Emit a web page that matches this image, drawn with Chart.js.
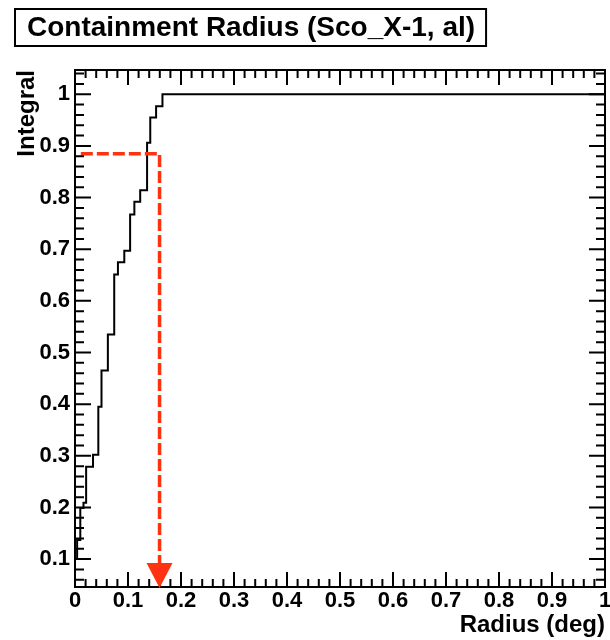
<!DOCTYPE html>
<html><head><meta charset="utf-8">
<script src="https://cdn.jsdelivr.net/npm/chart.js@4/dist/chart.umd.min.js"></script>
<style>html,body{margin:0;padding:0;background:#fff}#wrap{width:610px;height:640px}</style>
</head><body><div id="wrap"><canvas id="c" width="610" height="640"></canvas></div>
<script>
// ---- data ----
const titleText = 'Containment Radius (Sco_X-1, al)';
const xTitle = 'Radius (deg)';
const yTitle = 'Integral';
const binEdges = [0, 0.004, 0.01, 0.016, 0.021, 0.034, 0.044, 0.05, 0.062, 0.074, 0.081, 0.093, 0.104, 0.112, 0.123, 0.136, 0.142, 0.153, 0.165, 0.185];
const integralValues = [0.064, 0.10, 0.137, 0.199, 0.209, 0.279, 0.302, 0.395, 0.465, 0.535, 0.651, 0.675, 0.697, 0.767, 0.792, 0.814, 0.906, 0.955, 0.977, 1.0];
const xTickLabels = [0, 0.1, 0.2, 0.3, 0.4, 0.5, 0.6, 0.7, 0.8, 0.9, 1];
const yTickLabels = [0.1, 0.2, 0.3, 0.4, 0.5, 0.6, 0.7, 0.8, 0.9, 1];
const xRange = [0, 1];
const yRange = [0.046, 1.047];
const containmentLevel = 0.885;
const containmentRadius = 0.1595;
const markerStart = 0.011;

// ---- styles ----
const FONT = 'Liberation Sans, Arial, Helvetica, sans-serif';
const RED = '#ff3311';

const histData = binEdges.map((e, i) => ({x: e, y: integralValues[i]}));
histData.push({x: xRange[1], y: integralValues[integralValues.length - 1]});
const markerData = [
  {x: markerStart, y: containmentLevel},
  {x: containmentRadius, y: containmentLevel},
  {x: containmentRadius, y: yRange[0]}
];

const fmt = v => String(Math.round(v * 10) / 10);

const framePlugin = {
  id: 'rootFrame',
  afterLayout(chart) {
    const t = chart.titleBlock;
    if (t) { t.left = 27; t.right = 600; }
  },
  afterDatasetsDraw(chart) {
    const {ctx, chartArea: ca, scales: {x, y}} = chart;
    ctx.save();
    ctx.strokeStyle = '#000';
    ctx.lineWidth = 2;
    ctx.strokeRect(ca.left, ca.top, ca.right - ca.left, ca.bottom - ca.top);
    ctx.beginPath();
    for (let i = 0; i <= 50; i++) {
      const v = i * 0.02;
      if (v < xRange[0] - 1e-9 || v > xRange[1] + 1e-9) continue;
      const len = (i % 5 === 0) ? 15 : 8;
      const px = x.getPixelForValue(v);
      ctx.moveTo(px, ca.bottom); ctx.lineTo(px, ca.bottom - len);
      ctx.moveTo(px, ca.top); ctx.lineTo(px, ca.top + len);
    }
    for (let i = 0; i <= 60; i++) {
      const v = i * 0.02;
      if (v < yRange[0] || v > yRange[1]) continue;
      const len = (i % 5 === 0) ? 16 : 9;
      const py = y.getPixelForValue(v);
      ctx.moveTo(ca.left, py); ctx.lineTo(ca.left + len, py);
      ctx.moveTo(ca.right, py); ctx.lineTo(ca.right - len, py);
    }
    ctx.stroke();
    // arrow head at end of marker line
    const tipX = x.getPixelForValue(containmentRadius);
    const tipY = y.getPixelForValue(yRange[0]);
    ctx.fillStyle = RED;
    ctx.beginPath();
    ctx.moveTo(tipX, tipY + 1);
    ctx.lineTo(tipX - 13, tipY - 24);
    ctx.lineTo(tipX + 13, tipY - 24);
    ctx.closePath();
    ctx.fill();
    ctx.restore();
  },
  afterDraw(chart) {
    const ctx = chart.ctx;
    ctx.save();
    ctx.font = 'bold 28px ' + FONT;
    const w = ctx.measureText(titleText).width;
    ctx.strokeStyle = '#000';
    ctx.lineWidth = 2;
    ctx.strokeRect(15, 9, w + 23, 37);
    ctx.restore();
  }
};

new Chart(document.getElementById('c'), {
  type: 'line',
  data: {
    datasets: [
      {data: markerData, borderColor: RED, borderWidth: 3.5, borderDash: [12, 4], pointRadius: 0, fill: false, tension: 0},
      {data: histData, stepped: 'after', borderColor: '#000', borderWidth: 2, pointRadius: 0, fill: false}
    ]
  },
  plugins: [framePlugin],
  options: {
    responsive: false,
    animation: false,
    devicePixelRatio: 1,
    layout: {padding: {top: 0, right: 5, bottom: 0, left: 0}},
    plugins: {
      legend: {display: false},
      tooltip: {enabled: false},
      title: {display: true, text: titleText, align: 'start', color: '#000',
        font: {family: FONT, size: 28, weight: 'bold'}, padding: {top: 11, bottom: 25.4}}
    },
    scales: {
      x: {
        type: 'linear', min: xRange[0], max: xRange[1], position: 'bottom',
        grid: {display: false, drawTicks: false}, border: {display: false},
        afterBuildTicks: s => { s.ticks = xTickLabels.map(v => ({value: v})); },
        afterFit: s => { s.height = 53; s.paddingRight = 0; },
        ticks: {color: '#000', font: {family: FONT, size: 22, weight: 'bold'}, padding: 1,
          maxRotation: 0, autoSkip: false, callback: v => fmt(v)},
        title: {display: true, text: xTitle, align: 'end', color: '#000',
          font: {family: FONT, size: 24, weight: 'bold'}, padding: {top: 0, bottom: 0}}
      },
      y: {
        type: 'linear', min: yRange[0], max: yRange[1],
        grid: {display: false, drawTicks: false}, border: {display: false},
        afterBuildTicks: s => { s.ticks = yTickLabels.map(v => ({value: v})); },
        afterFit: s => { s.width = 75; },
        ticks: {color: '#000', font: {family: FONT, size: 22, weight: 'bold'}, padding: 5,
          autoSkip: false, callback: v => fmt(v)},
        title: {display: true, text: yTitle, align: 'end', color: '#000',
          font: {family: FONT, size: 24, weight: 'bold'}, padding: {top: 13, bottom: 0}}
      }
    }
  }
});
</script></body></html>
